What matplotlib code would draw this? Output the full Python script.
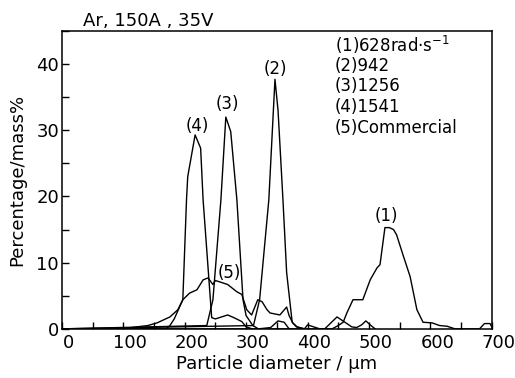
from matplotlib import pyplot as plt
from matplotlib.ticker import MultipleLocator
from matplotlib.transforms import ScaledTranslation

# (1) 628 rad/s
x1 = [0, 440, 450, 458, 464, 474, 490, 502, 513, 518, 526, 533, 540, 545, 556, 567, 578, 588, 603, 615, 627, 640, 680, 688, 697, 700]
y1 = [0, 0, 0.5, 1.0, 2.4, 4.4, 4.4, 7.4, 9.2, 9.7, 15.3, 15.3, 15.0, 14.2, 11.0, 7.9, 2.9, 1.0, 0.9, 0.5, 0.4, 0, 0, 0.8, 0.8, 0.3]

# (2) 942
x2 = [0, 312, 322, 337, 347, 352, 360, 366, 375, 382, 395, 400, 410, 420, 428, 448, 472, 480, 488, 495, 502, 510]
y2 = [0, 0.5, 4.4, 19.5, 37.7, 33.0, 19.5, 8.5, 1.0, 0.3, 0, 0.6, 0.3, 0, 0, 1.8, 0.3, 0.2, 0.6, 1.2, 0.6, 0]

# (3) 1256
x3 = [0, 236, 246, 259, 267, 275, 285, 295, 300, 311, 320, 340, 352, 362, 370]
y3 = [0, 0.5, 4.4, 19.5, 32.0, 29.8, 19.5, 4.4, 2.0, 0.5, 0, 0.2, 1.2, 1.0, 0]

# (4) 1541
x4 = [0, 170, 176, 183, 197, 203, 205, 217, 226, 230, 244, 250, 260, 270, 280, 293, 300, 310]
y4 = [0, 0, 0.5, 1.5, 4.4, 19.5, 23.0, 29.3, 27.3, 19.5, 1.7, 1.5, 1.8, 2.1, 1.7, 1.1, 0.3, 0]

# (5) Commercial
x5 = [0, 100, 122, 140, 155, 176, 189, 197, 208, 220, 230, 238, 246, 250, 257, 270, 285, 293, 301, 309, 319, 326, 334, 339, 355, 366, 370, 376, 383, 395]
y5 = [0, 0, 0.3, 0.5, 0.9, 1.8, 2.9, 4.4, 5.4, 5.9, 7.4, 7.7, 6.7, 7.3, 7.1, 6.7, 5.6, 5.2, 2.9, 2.1, 4.4, 4.1, 2.9, 2.4, 2.1, 3.3, 2.0, 0.9, 0.3, 0]

legend_lines = ["(1)628rad·s$^{-1}$", "(2)942", "(3)1256", "(4)1541", "(5)Commercial"]
peak_labels = ["(1)", "(2)", "(3)", "(4)", "(5)"]
peak_x = [529, 347, 270, 220, 272]
peak_y = [17.0, 39.2, 34.0, 30.6, 8.4]

plt.rcParams['font.family'] = 'DejaVu Sans'
fig = plt.figure(figsize=(5.15, 3.78), dpi=100)
ax = fig.add_axes([0.120, 0.130, 0.835, 0.788])

for xs, ys in [(x1, y1), (x2, y2), (x3, y3), (x4, y4), (x5, y5)]:
    ax.plot(xs, ys, color='black', lw=1.0)

ax.set_xlim(0, 700)
ax.set_ylim(0, 45)
ax.xaxis.set_major_locator(MultipleLocator(100))
ax.xaxis.set_minor_locator(MultipleLocator(50))
ax.yaxis.set_major_locator(MultipleLocator(10))
ax.yaxis.set_minor_locator(MultipleLocator(5))
ax.tick_params(which='both', direction='in', length=5, width=1.0, labelsize=13)
ax.tick_params(axis='x', pad=4)
ax.tick_params(axis='y', pad=2)
for s in ax.spines.values():
    s.set_linewidth(1.1)

# x tick labels sit a little right of their ticks in the original
shift = ScaledTranslation(5 / 72, 0, fig.dpi_scale_trans)
for lab in ax.get_xticklabels():
    lab.set_transform(lab.get_transform() + shift)

ax.set_xlabel("Particle diameter / μm", fontsize=13, labelpad=2)
ax.set_ylabel("Percentage/mass%", fontsize=13, labelpad=7)

ax.text(0.049, 1.005, "Ar, 150A , 35V", transform=ax.transAxes, fontsize=13,
        ha='left', va='bottom')

legend_y = [0.953, 0.883, 0.815, 0.745, 0.674]
for txt, yy in zip(legend_lines, legend_y):
    ax.text(0.635, yy, txt, transform=ax.transAxes, fontsize=12, ha='left', va='center')

for lab, px, py in zip(peak_labels, peak_x, peak_y):
    ax.text(px, py, lab, fontsize=12, ha='center', va='center')

fig.savefig('out.png', dpi=100)
